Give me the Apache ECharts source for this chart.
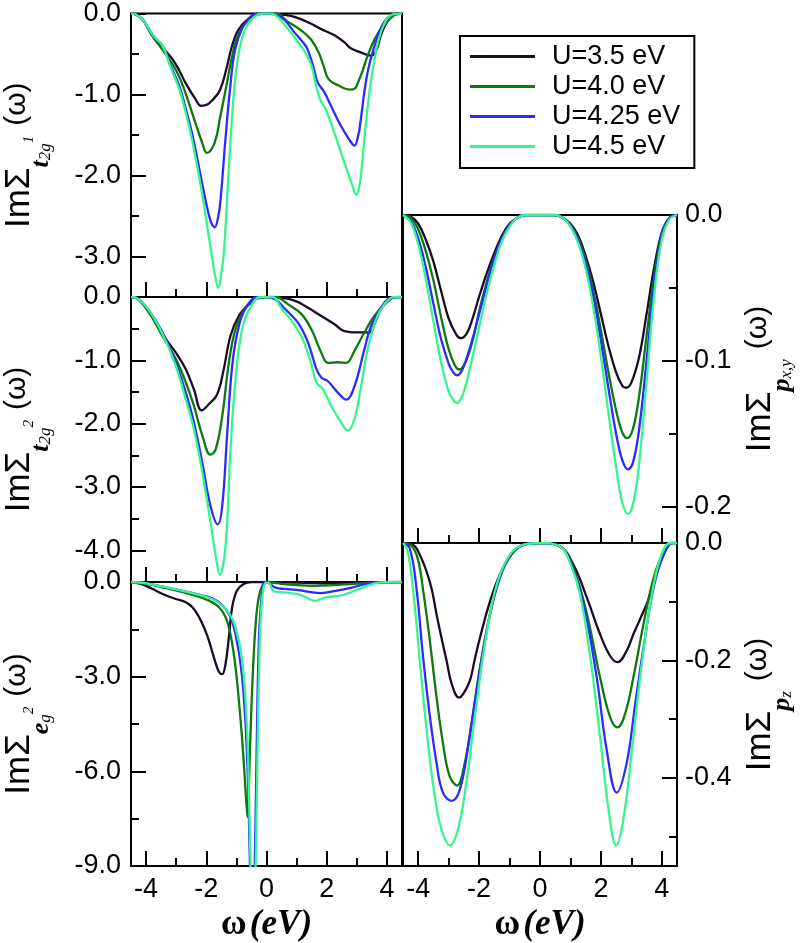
<!DOCTYPE html>
<html>
<head>
<meta charset="utf-8">
<script src="https://cdn.jsdelivr.net/npm/echarts@6/dist/echarts.min.js"></script>
<style>
  html, body { margin: 0; padding: 0; background: #fff; }
  #main { width: 807px; height: 943px; }
</style>
</head>
<body>
<div id="main"></div>
<script>
// legend names and colours
var uNames = ['U=3.5 eV', 'U=4.0 eV', 'U=4.25 eV', 'U=4.5 eV']
var uColors = ['#1c0a28', '#0c7a0c', '#2b2bff', '#36f58c']

// tick values
var xMajor = [-4, -2, 0, 2, 4]
var xMinor = [-3, -1, 1, 3]

// ImΣ t2g^1
var t2g1_35 = [[-4.5, 0], [-4.35, -0.01], [-4.1, -0.08], [-3.8, -0.27], [-3.45, -0.42], [-3.13, -0.56], [-2.9, -0.7], [-2.7, -0.85], [-2.37, -1.05], [-2.17, -1.14], [-1.95, -1.12], [-1.8, -1.07], [-1.55, -0.95], [-1.33, -0.68], [-1.16, -0.42], [-0.95, -0.21], [-0.62, -0.07], [-0.3, -0.01], [0, 0], [0.4, -0.01], [0.8, -0.03], [1.14, -0.07], [1.5, -0.13], [1.8, -0.19], [2.1, -0.24], [2.35, -0.29], [2.6, -0.36], [2.8, -0.43], [3.13, -0.48], [3.46, -0.52], [3.63, -0.47], [3.8, -0.27], [3.96, -0.13], [4.12, -0.05], [4.34, 0], [4.5, 0]]
var t2g1_40 = [[-4.5, 0], [-4.35, -0.01], [-4.1, -0.08], [-3.75, -0.3], [-3.45, -0.45], [-3.13, -0.62], [-2.9, -0.78], [-2.7, -0.97], [-2.37, -1.34], [-2.15, -1.58], [-1.98, -1.72], [-1.8, -1.66], [-1.65, -1.5], [-1.55, -1.3], [-1.33, -0.89], [-1.16, -0.56], [-0.95, -0.27], [-0.62, -0.09], [-0.3, -0.01], [0, 0], [0.3, 0], [0.74, -0.11], [1.0, -0.17], [1.29, -0.25], [1.5, -0.33], [1.73, -0.48], [1.9, -0.65], [2.06, -0.81], [2.4, -0.89], [2.77, -0.94], [2.95, -0.92], [3.04, -0.85], [3.2, -0.7], [3.32, -0.56], [3.6, -0.31], [3.93, -0.13], [4.25, -0.02], [4.5, 0]]
var t2g1_425 = [[-4.5, 0], [-4.35, -0.01], [-4.1, -0.08], [-3.75, -0.28], [-3.45, -0.4], [-3.2, -0.63], [-2.9, -0.89], [-2.7, -1.15], [-2.46, -1.5], [-2.13, -2.11], [-1.86, -2.56], [-1.72, -2.64], [-1.6, -2.5], [-1.53, -2.32], [-1.37, -1.58], [-1.2, -0.89], [-1.04, -0.44], [-0.77, -0.15], [-0.5, -0.03], [-0.2, 0], [0, 0], [0.3, -0.01], [0.6, -0.08], [0.92, -0.23], [1.2, -0.35], [1.36, -0.44], [1.55, -0.65], [1.7, -0.85], [1.92, -0.97], [2.13, -1.13], [2.46, -1.38], [2.79, -1.58], [2.92, -1.63], [3.05, -1.5], [3.12, -1.34], [3.34, -0.76], [3.62, -0.36], [3.9, -0.11], [4.23, -0.01], [4.5, 0]]
var t2g1_45 = [[-4.5, 0], [-4.35, -0.01], [-4.1, -0.08], [-3.75, -0.28], [-3.45, -0.4], [-3.2, -0.65], [-2.9, -0.93], [-2.7, -1.2], [-2.46, -1.58], [-2.13, -2.24], [-1.86, -2.89], [-1.7, -3.25], [-1.6, -3.39], [-1.5, -3.2], [-1.41, -2.93], [-1.25, -1.91], [-1.08, -0.97], [-0.92, -0.48], [-0.7, -0.19], [-0.43, -0.05], [-0.1, 0], [0.1, 0], [0.3, -0.02], [0.63, -0.15], [0.96, -0.31], [1.29, -0.48], [1.5, -0.65], [1.62, -0.85], [1.79, -1.07], [1.95, -1.17], [2.28, -1.5], [2.61, -1.87], [2.85, -2.12], [2.98, -2.24], [3.1, -2.1], [3.16, -1.91], [3.38, -1.09], [3.65, -0.44], [3.93, -0.11], [4.2, -0.01], [4.5, 0]]

// ImΣ t2g^2
var t2g2_35 = [[-4.5, 0], [-4.3, -0.02], [-3.89, -0.25], [-3.45, -0.59], [-3.01, -0.88], [-2.68, -1.14], [-2.41, -1.46], [-2.15, -1.79], [-1.91, -1.69], [-1.64, -1.54], [-1.42, -1.14], [-1.2, -0.62], [-0.92, -0.3], [-0.59, -0.12], [-0.26, -0.01], [0, 0], [0.29, 0], [0.95, -0.06], [1.38, -0.17], [1.82, -0.3], [2.26, -0.43], [2.59, -0.54], [3.03, -0.56], [3.42, -0.56], [3.58, -0.43], [3.8, -0.19], [4.08, -0.05], [4.24, 0], [4.5, 0]]
var t2g2_40 = [[-4.5, 0], [-4.3, -0.02], [-3.89, -0.25], [-3.45, -0.62], [-3.01, -0.98], [-2.68, -1.35], [-2.41, -1.72], [-2.13, -2.19], [-1.86, -2.49], [-1.69, -2.41], [-1.47, -1.88], [-1.25, -1.04], [-1.03, -0.51], [-0.7, -0.17], [-0.37, -0.04], [0, 0], [0.3, 0], [0.73, -0.12], [1.16, -0.27], [1.49, -0.51], [1.82, -0.88], [2.04, -1.04], [2.37, -1.03], [2.65, -1.04], [2.92, -0.85], [3.25, -0.56], [3.58, -0.3], [3.91, -0.12], [4.24, 0], [4.5, 0]]
var t2g2_425 = [[-4.5, 0], [-4.3, -0.02], [-3.89, -0.22], [-3.45, -0.56], [-3.01, -1.04], [-2.68, -1.51], [-2.41, -1.98], [-2.13, -2.62], [-1.86, -3.3], [-1.62, -3.59], [-1.47, -3.3], [-1.31, -2.19], [-1.14, -1.09], [-0.92, -0.46], [-0.65, -0.14], [-0.3, 0], [0, 0], [0.3, -0.04], [0.62, -0.19], [1.05, -0.41], [1.38, -0.72], [1.66, -1.14], [1.82, -1.27], [2.04, -1.33], [2.37, -1.51], [2.65, -1.62], [2.92, -1.41], [3.25, -0.83], [3.47, -0.46], [3.8, -0.17], [4.13, -0.01], [4.5, 0]]
var t2g2_45 = [[-4.5, 0], [-4.3, -0.02], [-3.89, -0.22], [-3.45, -0.59], [-3.01, -1.09], [-2.68, -1.62], [-2.41, -2.09], [-2.13, -2.77], [-1.86, -3.56], [-1.67, -4.14], [-1.55, -4.39], [-1.36, -3.93], [-1.2, -2.46], [-1.03, -1.3], [-0.81, -0.51], [-0.54, -0.17], [-0.2, 0], [0.2, 0], [0.51, -0.19], [0.84, -0.38], [1.16, -0.62], [1.44, -0.98], [1.66, -1.35], [1.88, -1.46], [2.15, -1.72], [2.48, -1.98], [2.7, -2.11], [2.92, -1.93], [3.14, -1.41], [3.36, -0.83], [3.64, -0.35], [3.91, -0.12], [4.24, 0], [4.5, 0]]

// ImΣ eg^2
var eg2_35 = [[-4.5, 0], [-4.2, -0.05], [-3.89, -0.17], [-3.45, -0.38], [-3.01, -0.54], [-2.68, -0.64], [-2.46, -0.8], [-2.24, -1.11], [-1.97, -1.69], [-1.75, -2.38], [-1.58, -2.85], [-1.47, -2.92], [-1.36, -2.59], [-1.25, -1.75], [-1.14, -0.8], [-0.98, -0.27], [-0.76, -0.06], [-0.5, 0], [0, 0], [1.0, -0.02], [1.8, -0.04], [2.6, -0.03], [3.4, -0.01], [4.5, 0]]
var eg2_40 = [[-4.5, 0], [-4.0, -0.05], [-3.45, -0.17], [-2.57, -0.38], [-1.91, -0.59], [-1.58, -0.8], [-1.36, -1.11], [-1.2, -1.64], [-1.03, -2.69], [-0.87, -4.27], [-0.76, -5.64], [-0.67, -7.0], [-0.63, -7.45], [-0.55, -5.3], [-0.45, -2.8], [-0.35, -1.2], [-0.25, -0.45], [-0.12, -0.08], [0, 0], [0.5, -0.06], [1.0, -0.1], [1.6, -0.12], [2.2, -0.1], [2.9, -0.06], [3.5, -0.02], [4.5, 0]]
var eg2_425 = [[-4.5, 0], [-4.0, -0.04], [-3.45, -0.15], [-2.57, -0.33], [-1.91, -0.48], [-1.58, -0.64], [-1.25, -1.01], [-1.03, -1.64], [-0.81, -3.0], [-0.65, -5.4], [-0.56, -8.5], [-0.48, -12], [-0.4, -9.5], [-0.33, -5.5], [-0.25, -1.8], [-0.15, -0.35], [-0.05, 0], [0.1, -0.05], [0.3, -0.18], [0.6, -0.22], [1.0, -0.25], [1.6, -0.34], [1.8, -0.35], [2.3, -0.28], [2.9, -0.16], [3.4, -0.04], [4.5, 0]]
var eg2_45 = [[-4.5, 0], [-4.0, -0.04], [-3.45, -0.15], [-2.57, -0.33], [-1.91, -0.5], [-1.58, -0.66], [-1.25, -0.98], [-1.03, -1.43], [-0.81, -2.48], [-0.65, -4.58], [-0.54, -8.5], [-0.45, -12], [-0.37, -9.5], [-0.3, -5.5], [-0.22, -1.8], [-0.12, -0.3], [0, -0.02], [0.1, -0.05], [0.25, -0.3], [0.5, -0.32], [1.0, -0.38], [1.3, -0.48], [1.6, -0.6], [2.0, -0.48], [2.5, -0.42], [3.0, -0.25], [3.4, -0.1], [3.8, -0.01], [4.5, 0]]

// ImΣ px,y
var pxy_35 = [[-4.5, 0], [-4.25, -0.001], [-4.0, -0.006], [-3.75, -0.017], [-3.5, -0.032], [-3.25, -0.052], [-3.0, -0.071], [-2.75, -0.082], [-2.6, -0.0845], [-2.4, -0.081], [-2.2, -0.07], [-2.0, -0.056], [-1.75, -0.04], [-1.5, -0.026], [-1.25, -0.014], [-1.0, -0.006], [-0.75, -0.002], [-0.5, 0], [0, 0], [0.5, 0], [0.75, -0.002], [1.0, -0.006], [1.25, -0.014], [1.5, -0.028], [1.75, -0.046], [2.0, -0.068], [2.25, -0.09], [2.5, -0.108], [2.7, -0.117], [2.83, -0.1185], [3.0, -0.115], [3.25, -0.098], [3.5, -0.068], [3.75, -0.036], [4.0, -0.012], [4.25, -0.002], [4.5, 0]]
var pxy_40 = [[-4.5, 0], [-4.25, -0.002], [-4.0, -0.01], [-3.75, -0.025], [-3.5, -0.045], [-3.25, -0.07], [-3.0, -0.092], [-2.8, -0.103], [-2.65, -0.106], [-2.45, -0.101], [-2.2, -0.085], [-2.0, -0.066], [-1.75, -0.046], [-1.5, -0.029], [-1.25, -0.016], [-1.0, -0.007], [-0.75, -0.002], [-0.5, 0], [0, 0], [0.5, 0], [0.75, -0.002], [1.0, -0.007], [1.25, -0.016], [1.5, -0.031], [1.75, -0.052], [2.0, -0.079], [2.25, -0.108], [2.5, -0.134], [2.7, -0.149], [2.87, -0.153], [3.05, -0.147], [3.25, -0.125], [3.5, -0.083], [3.75, -0.042], [4.0, -0.013], [4.25, -0.002], [4.5, 0]]
var pxy_425 = [[-4.5, 0], [-4.25, -0.004], [-4.0, -0.016], [-3.75, -0.036], [-3.5, -0.061], [-3.25, -0.085], [-3.0, -0.102], [-2.85, -0.108], [-2.72, -0.11], [-2.55, -0.106], [-2.3, -0.091], [-2.0, -0.068], [-1.75, -0.048], [-1.5, -0.03], [-1.25, -0.016], [-1.0, -0.007], [-0.75, -0.002], [-0.5, 0], [0, 0], [0.5, 0], [0.75, -0.002], [1.0, -0.007], [1.25, -0.017], [1.5, -0.033], [1.75, -0.056], [2.0, -0.086], [2.25, -0.119], [2.5, -0.15], [2.7, -0.168], [2.89, -0.1745], [3.05, -0.17], [3.25, -0.148], [3.5, -0.1], [3.75, -0.048], [4.0, -0.014], [4.25, -0.002], [4.5, 0]]
var pxy_45 = [[-4.5, 0], [-4.25, -0.005], [-4.0, -0.02], [-3.75, -0.044], [-3.5, -0.073], [-3.25, -0.101], [-3.0, -0.121], [-2.85, -0.127], [-2.74, -0.129], [-2.55, -0.124], [-2.3, -0.105], [-2.0, -0.077], [-1.75, -0.054], [-1.5, -0.034], [-1.25, -0.018], [-1.0, -0.008], [-0.75, -0.002], [-0.5, 0], [0, 0], [0.5, 0], [0.75, -0.002], [1.0, -0.008], [1.25, -0.019], [1.5, -0.037], [1.75, -0.063], [2.0, -0.097], [2.25, -0.136], [2.5, -0.173], [2.7, -0.197], [2.89, -0.205], [3.05, -0.199], [3.25, -0.172], [3.5, -0.114], [3.75, -0.055], [4.0, -0.017], [4.25, -0.003], [4.5, 0]]

// ImΣ pz
var pz_35 = [[-4.5, 0], [-4.17, -0.003], [-3.95, -0.02], [-3.73, -0.048], [-3.55, -0.08], [-3.4, -0.121], [-3.2, -0.17], [-3.07, -0.2], [-2.9, -0.24], [-2.66, -0.263], [-2.5, -0.255], [-2.3, -0.234], [-2.15, -0.2], [-1.97, -0.161], [-1.64, -0.099], [-1.32, -0.054], [-0.99, -0.023], [-0.55, -0.003], [0, 0], [0.66, -0.006], [1.1, -0.037], [1.54, -0.093], [1.97, -0.155], [2.3, -0.192], [2.55, -0.203], [2.85, -0.183], [3.07, -0.155], [3.3, -0.128], [3.55, -0.098], [3.8, -0.055], [4.06, -0.02], [4.34, 0], [4.5, 0]]
var pz_40 = [[-4.5, 0], [-4.2, -0.006], [-4.0, -0.03], [-3.85, -0.076], [-3.63, -0.161], [-3.4, -0.262], [-3.19, -0.34], [-2.97, -0.397], [-2.72, -0.413], [-2.47, -0.374], [-2.25, -0.307], [-1.97, -0.211], [-1.64, -0.121], [-1.32, -0.06], [-0.99, -0.023], [-0.55, -0.003], [0, 0], [0.66, -0.006], [1.1, -0.043], [1.54, -0.121], [1.97, -0.228], [2.3, -0.296], [2.55, -0.314], [2.8, -0.29], [3.07, -0.228], [3.4, -0.138], [3.73, -0.06], [4.06, -0.015], [4.34, 0], [4.5, 0]]
var pz_425 = [[-4.5, 0], [-4.28, -0.009], [-4.06, -0.076], [-3.85, -0.189], [-3.63, -0.29], [-3.4, -0.374], [-3.19, -0.425], [-2.9, -0.439], [-2.63, -0.419], [-2.36, -0.346], [-2.08, -0.251], [-1.75, -0.149], [-1.43, -0.076], [-1.1, -0.031], [-0.66, -0.006], [0, 0], [0.66, -0.006], [0.99, -0.031], [1.43, -0.104], [1.86, -0.228], [2.19, -0.352], [2.52, -0.425], [2.85, -0.374], [3.13, -0.273], [3.4, -0.178], [3.73, -0.076], [4.06, -0.02], [4.34, 0], [4.5, 0]]
var pz_45 = [[-4.5, 0], [-4.34, -0.015], [-4.12, -0.104], [-3.9, -0.228], [-3.68, -0.34], [-3.46, -0.43], [-3.24, -0.487], [-2.96, -0.515], [-2.69, -0.487], [-2.42, -0.408], [-2.14, -0.296], [-1.81, -0.172], [-1.48, -0.082], [-1.1, -0.029], [-0.66, -0.005], [0, 0], [0.66, -0.006], [0.99, -0.034], [1.32, -0.088], [1.65, -0.194], [1.97, -0.329], [2.25, -0.453], [2.5, -0.515], [2.74, -0.47], [3.02, -0.352], [3.29, -0.228], [3.62, -0.104], [3.95, -0.026], [4.28, 0], [4.5, 0]]

var sans = 'Liberation Sans, Arial, Helvetica, sans-serif'
var serif = 'Liberation Serif, Times New Roman, serif'

// title pieces (rich text); the spacer sets the full line height so that
// the sub/superscripts can sit lower or higher than the main text
var titleRich = {
  a: { fontFamily: sans, fontSize: 35, lineHeight: 36, verticalAlign: 'top', color: '#000' },
  b: { fontFamily: serif, fontSize: 26, fontWeight: 'bold', fontStyle: 'italic', lineHeight: 26, verticalAlign: 'bottom', color: '#000' },
  c: { fontFamily: serif, fontSize: 17, fontStyle: 'italic', lineHeight: 17, verticalAlign: 'bottom', color: '#000' },
  d: { fontFamily: serif, fontSize: 15, fontStyle: 'italic', lineHeight: 15, verticalAlign: 'top', padding: [20, 0, 0, 0], color: '#000' },
  s: { fontFamily: sans, fontSize: 12, lineHeight: 52, verticalAlign: 'top', width: 10 },
  e: { fontFamily: sans, fontSize: 30, lineHeight: 36, verticalAlign: 'top', color: '#000' }
}

var panels = [
  { grid: { left: 131, top: 12, width: 271, height: 285 }, side: 'left', ymin: -3.5, yMajor: [0, -1, -2, -3], yMinor: [-0.5, -1.5, -2.5], bottom: false,
    title: '{a|ImΣ}{b|t}{c|2g}{d|1}{s| }{e|(ω)}', data: [t2g1_35, t2g1_40, t2g1_425, t2g1_45] },
  { grid: { left: 131, top: 297, width: 271, height: 285 }, side: 'left', ymin: -4.5, yMajor: [0, -1, -2, -3, -4], yMinor: [-0.5, -1.5, -2.5, -3.5], bottom: false,
    title: '{a|ImΣ}{b|t}{c|2g}{d|2}{s| }{e|(ω)}', data: [t2g2_35, t2g2_40, t2g2_425, t2g2_45] },
  { grid: { left: 131, top: 582, width: 271, height: 285 }, side: 'left', ymin: -9, yMajor: [0, -3, -6, -9], yMinor: [-1.5, -4.5, -7.5], bottom: true,
    title: '{a|ImΣ}{b|e}{c|g}{d|2}{s| }{e|(ω)}', data: [eg2_35, eg2_40, eg2_425, eg2_45] },
  { grid: { left: 403, top: 215, width: 274, height: 328 }, side: 'right', ymin: -0.225, yMajor: [0, -0.1, -0.2], yMinor: [-0.05, -0.15], bottom: false,
    title: '{a|ImΣ}{b|p}{c|x,y}{s| }{e|(ω)}', data: [pxy_35, pxy_40, pxy_425, pxy_45] },
  { grid: { left: 403, top: 543, width: 274, height: 325 }, side: 'right', ymin: -0.55, yMajor: [0, -0.2, -0.4], yMinor: [-0.1, -0.3, -0.5], bottom: true,
    title: '{a|ImΣ}{b|p}{c|z}{s| }{e|(ω)}', data: [pz_35, pz_40, pz_425, pz_45] }
]

var grids = []
var xAxes = []
var yAxes = []
var series = []

panels.forEach(function (p, i) {
  grids.push(Object.assign({ show: true, borderColor: '#000', borderWidth: 2, backgroundColor: 'transparent' }, p.grid))
  // x axis with major ticks (and labels on the bottom row)
  xAxes.push({
    type: 'value', gridIndex: i, min: -4.5, max: 4.5, position: 'bottom',
    axisLine: { show: false, onZero: false },
    splitLine: { show: false },
    axisTick: { show: true, inside: true, length: 15, customValues: xMajor, lineStyle: { color: '#000', width: 2 } },
    axisLabel: { show: p.bottom, customValues: xMajor, margin: 10, color: '#000', fontSize: 27, fontFamily: sans },
    name: p.bottom ? '{w|ω} {e|(eV)}' : '',
    nameLocation: 'middle', nameGap: 41,
    nameTextStyle: {
      rich: {
        w: { fontFamily: serif, fontSize: 35, fontWeight: 'bold', color: '#000' },
        e: { fontFamily: serif, fontSize: 35, fontWeight: 'bold', fontStyle: 'italic', color: '#000' }
      }
    }
  })
  // x axis with minor ticks
  xAxes.push({
    type: 'value', gridIndex: i, min: -4.5, max: 4.5, position: 'bottom',
    axisLine: { show: false, onZero: false },
    splitLine: { show: false },
    axisTick: { show: true, inside: true, length: 8, customValues: xMinor, lineStyle: { color: '#000', width: 2 } },
    axisLabel: { show: false }
  })
  yAxes.push({
    type: 'value', gridIndex: i, min: p.ymin, max: 0, position: p.side,
    axisLine: { show: false, onZero: false },
    splitLine: { show: false },
    axisTick: { show: true, inside: true, length: 15, customValues: p.yMajor, lineStyle: { color: '#000', width: 2 } },
    axisLabel: {
      customValues: p.yMajor, margin: p.side === 'left' ? 10 : 8, color: '#000', fontSize: 27, fontFamily: sans,
      formatter: function (v) { return (Math.abs(v) < 1e-9 ? 0 : v).toFixed(1) }
    },
    name: p.title,
    nameLocation: 'middle',
    nameGap: p.side === 'left' ? 77 : 66,
    nameTextStyle: { rich: titleRich }
  })
  yAxes.push({
    type: 'value', gridIndex: i, min: p.ymin, max: 0, position: p.side,
    axisLine: { show: false, onZero: false },
    splitLine: { show: false },
    axisTick: { show: true, inside: true, length: 8, customValues: p.yMinor, lineStyle: { color: '#000', width: 2 } },
    axisLabel: { show: false }
  })
  p.data.forEach(function (d, k) {
    series.push({
      name: uNames[k],
      type: 'line',
      xAxisIndex: 2 * i,
      yAxisIndex: 2 * i,
      data: d,
      symbol: 'none',
      showSymbol: false,
      smooth: 0.4,
      clip: true,
      lineStyle: { width: 2.3, color: uColors[k] },
      itemStyle: { color: uColors[k] }
    })
  })
})

var chart = echarts.init(document.getElementById('main'))
chart.setOption({
  animation: false,
  backgroundColor: '#fff',
  legend: {
    data: uNames,
    orient: 'vertical',
    left: 460,
    top: 36,
    padding: [7, 14, 8, 10],
    itemGap: 3,
    icon: 'rect',
    itemWidth: 65,
    itemHeight: 3,
    borderColor: '#000',
    borderWidth: 2,
    textStyle: { fontSize: 27, lineHeight: 24, color: '#000', fontFamily: sans, padding: [0, 0, 0, 12] }
  },
  grid: grids,
  xAxis: xAxes,
  yAxis: yAxes,
  series: series
})
</script>
</body>
</html>
